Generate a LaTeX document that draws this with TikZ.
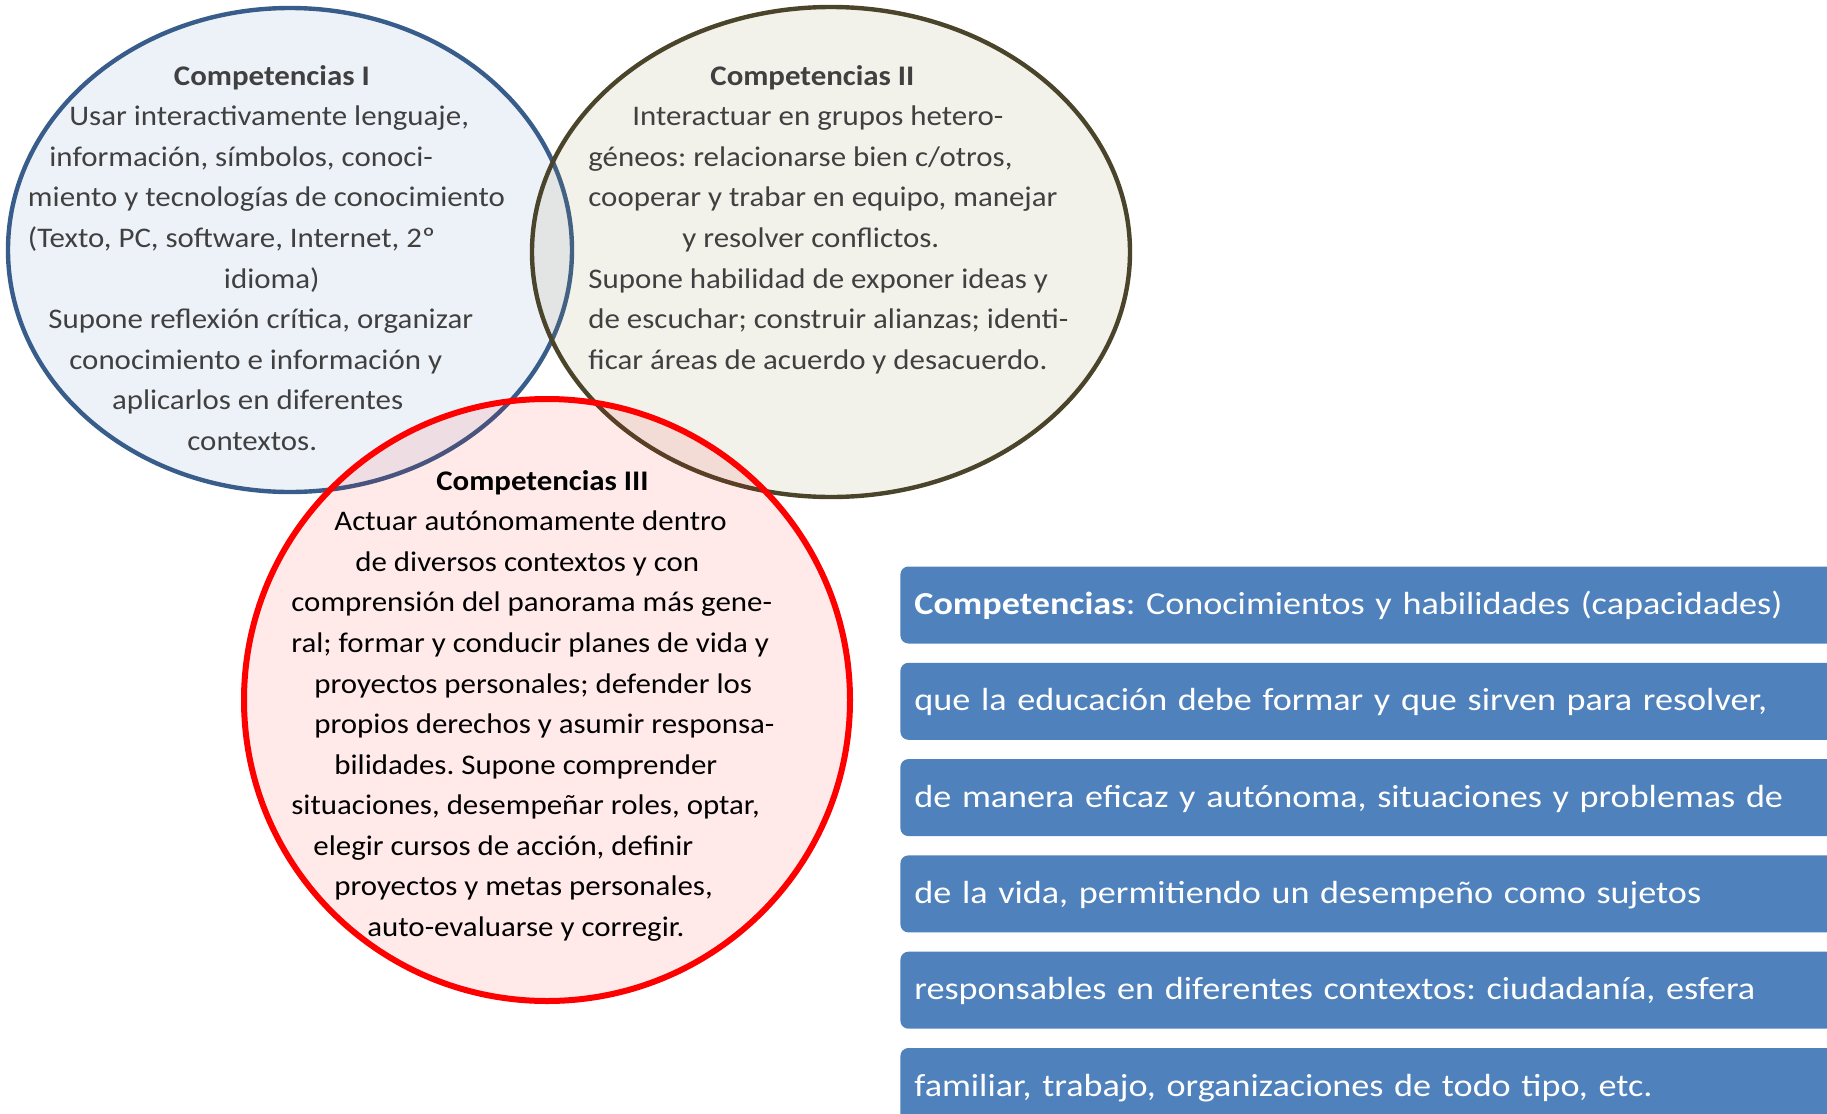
\documentclass[tikz,border=0pt]{standalone}
\usepackage{fontspec}
\setmainfont{Carlito}[FakeStretch=1.088]
\newfontfamily\barfont{Carlito}[FakeStretch=1.13]
\usetikzlibrary{positioning}

\definecolor{azulborde}{HTML}{385D8A}
\definecolor{azulfondo}{HTML}{4F81BD}
\definecolor{olivaborde}{HTML}{4A452A}
\definecolor{olivafondo}{HTML}{948A54}
\definecolor{rojoborde}{HTML}{FF0000}
\definecolor{textogris}{HTML}{404040}
\definecolor{barraazul}{HTML}{4F81BD}

\newcommand{\sangria}[1]{\hspace*{#1pt}}

\begin{document}
\frenchspacing
\begin{tikzpicture}[x=0.5pt, y=-0.5pt,
    circtexto/.style={anchor=north west, inner sep=0pt, align=left,
        font=\fontsize{14.2}{20.26}\selectfont},
    barra/.style={fill=barraazul, text=white, rounded corners=4pt, anchor=west,
        inner xsep=7pt, inner ysep=0pt, text width=470pt, minimum height=38.5pt,
        text height=17pt, text depth=7.5pt, align=left,
        font=\barfont\fontsize{16}{19}\selectfont},
    node distance=9.25pt]

    % 图的边界
    \useasboundingbox (0,0) rectangle (1827,1114);

    % 定义三个圆的圆心
    \coordinate (CI) at (290,250);
    \coordinate (CII) at (831,252);
    \coordinate (CIII) at (547,700);

    % 1. 绘制三个半透明的椭圆
    \draw[azulborde, line width=2.2pt, fill=azulfondo, fill opacity=0.1]
        (CI) ellipse [x radius=282, y radius=242];
    \draw[olivaborde, line width=2.2pt, fill=olivafondo, fill opacity=0.12]
        (CII) ellipse [x radius=299, y radius=245];
    \draw[rojoborde, line width=3pt, fill=rojoborde, fill opacity=0.086]
        (CIII) ellipse [x radius=303, y radius=301];

    % 2. 圆内文字
    \node[circtexto, text=textogris] (compI) at (27.6,63) {%
        \sangria{73}\rule{0pt}{11pt}\textbf{Competencias I}\\
        \sangria{20.7}Usar interactivamente lenguaje,\\
        \sangria{10.7}información, símbolos, conoci-\\
        miento y tecnologías de conocimiento\\
        (Texto, PC, software, Internet, 2º\\
        \sangria{98}idioma)\\
        \sangria{10.2}Supone reflexión crítica, organizar\\
        \sangria{20.7}conocimiento e información y\\
        \sangria{42}aplicarlos en diferentes\\
        \sangria{79.7}contextos.};

    \node[circtexto, text=textogris] (compII) at (588,63) {%
        \sangria{61}\rule{0pt}{11pt}\textbf{Competencias II}\\
        \sangria{22}Interactuar en grupos hetero-\\
        géneos: relacionarse bien c/otros,\\
        cooperar y trabar en equipo, manejar\\
        \sangria{47}y resolver conflictos.\\
        Supone habilidad de exponer ideas y\\
        de escuchar; construir alianzas; identi-\\
        ficar áreas de acuerdo y desacuerdo.};

    \node[circtexto, text=black] (compIII) at (291,468) {%
        \sangria{72.5}\rule{0pt}{11pt}\textbf{Competencias III}\\
        \sangria{21.5}Actuar autónomamente dentro\\
        \sangria{32}de diversos contextos y con\\
        comprensión del panorama más gene-\\
        ral; formar y conducir planes de vida y\\
        \sangria{11.5}proyectos personales; defender los\\
        \sangria{11.5}propios derechos y asumir responsa-\\
        \sangria{21.5}bilidades. Supone comprender\\
        situaciones, desempeñar roles, optar,\\
        \sangria{11}elegir cursos de acción, definir\\
        \sangria{21.5}proyectos y metas personales,\\
        \sangria{38}auto-evaluarse y corregir.};

    % 3. 右侧的蓝色条带 (超出右边界部分被裁掉)
    \begin{scope}
        \clip (0,0) rectangle (1827,1114);
        \node[barra] (b1) at (900,605) {\textbf{Competencias}: Conocimientos y habilidades (capacidades)};
        \node[barra, below=of b1] (b2) {que la educación debe formar y que sirven para resolver,};
        \node[barra, below=of b2] (b3) {de manera eficaz y autónoma, situaciones y problemas de};
        \node[barra, below=of b3] (b4) {de la vida, permitiendo un desempeño como sujetos};
        \node[barra, below=of b4] (b5) {responsables en diferentes contextos: ciudadanía, esfera};
        \node[barra, below=of b5] (b6) {familiar, trabajo, organizaciones de todo tipo, etc.};
    \end{scope}

\end{tikzpicture}
\end{document}
